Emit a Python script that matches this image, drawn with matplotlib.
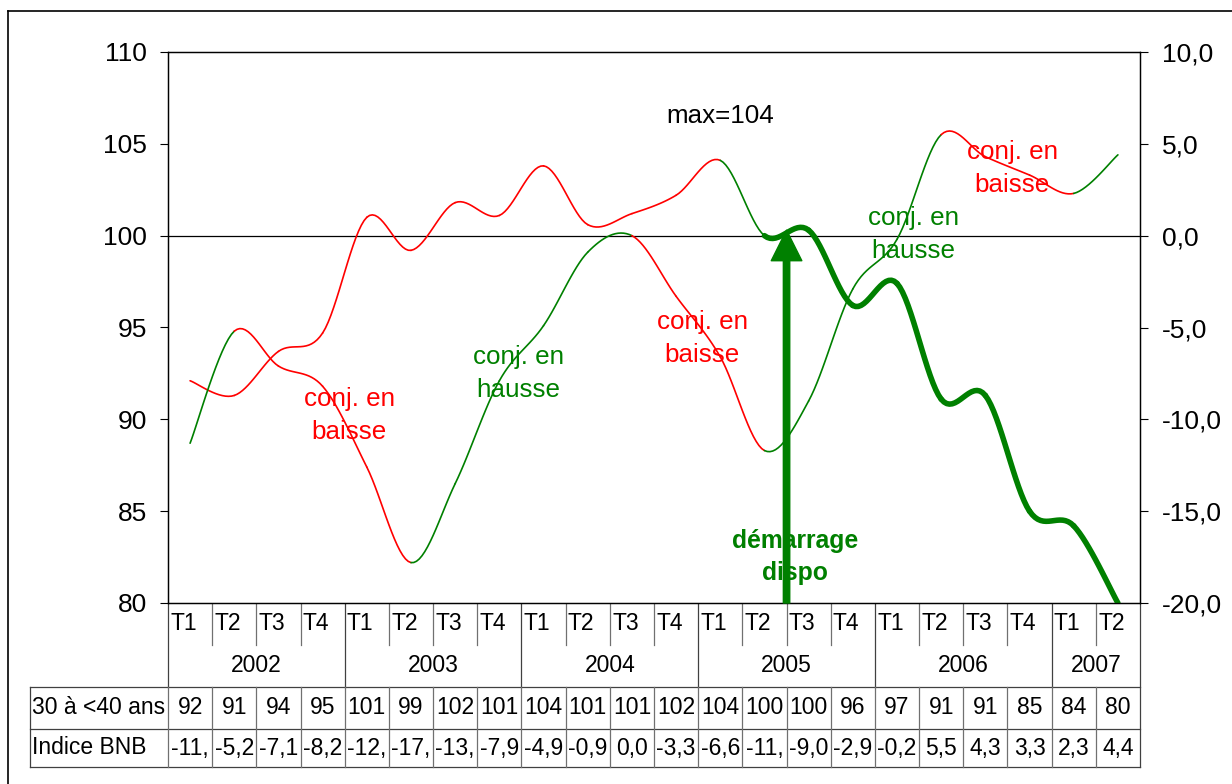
import matplotlib

matplotlib.use("Agg")
import matplotlib.pyplot as plt
import matplotlib.transforms as mtransforms
import numpy as np

# data
YEARS = ["2002", "2003", "2004", "2005", "2006", "2007"]
QUARTERS_PER_YEAR = [4, 4, 4, 4, 4, 2]
QUARTER_LABELS = ["T1", "T2", "T3", "T4"]

AGE_LABEL = "30 à <40 ans"
AGE_30_40 = [92.1, 91.3, 93.7, 94.7, 101.0, 99.2, 101.8, 101.1, 103.8, 100.6, 101.2,
             102.2, 104.1, 100.0, 100.3, 96.2, 97.4, 91.1, 91.3, 85.0, 84.2, 80.0]

BNB_LABEL = "Indice BNB"
BNB_INDEX = [-11.3, -5.2, -7.1, -8.2, -12.6, -17.8, -13.5, -7.9, -4.9, -0.9, 0.0,
             -3.3, -6.6, -11.7, -9.0, -2.9, -0.2, 5.5, 4.3, 3.3, 2.3, 4.4]

LEFT_TICKS = [80, 85, 90, 95, 100, 105, 110]
RIGHT_TICKS = [-20, -15, -10, -5, 0, 5, 10]

RED = "#FF0000"
GREEN = "#008000"
FONT = "Liberation Sans"

# layout in pixels (figure is 1232 x 784)
W, H = 1232, 784
PLOT_L, PLOT_R, PLOT_T, PLOT_B = 168, 1140, 52, 603


def smooth_segments(x, y, n=16):
    # excel-like smoothed line: bezier with catmull-rom control points
    pts = np.column_stack([x, y]).astype(float)
    padded = np.vstack([pts[0], pts, pts[-1]])
    t = np.linspace(0, 1, n + 1)[:, None]
    segments = []
    for i in range(len(pts) - 1):
        p0, p1, p2, p3 = padded[i], padded[i + 1], padded[i + 2], padded[i + 3]
        c1 = p1 + (p2 - p0) / 6
        c2 = p2 - (p3 - p1) / 6
        seg = (1 - t) ** 3 * p1 + 3 * (1 - t) ** 2 * t * c1 + 3 * (1 - t) * t ** 2 * c2 + t ** 3 * p2
        segments.append(seg)
    return segments


def fmt_comma(v, decimals=1):
    return f"{v:.{decimals}f}".replace(".", ",")


def main() -> None:
    plt.rcParams["font.family"] = [FONT, "DejaVu Sans"]

    fig = plt.figure(figsize=(W / 100, H / 100), dpi=100)

    # pixel overlay for border and table
    over = fig.add_axes([0, 0, 1, 1])
    over.set_xlim(0, W)
    over.set_ylim(H, 0)
    over.axis("off")

    ax = fig.add_axes([PLOT_L / W, (H - PLOT_B) / H, (PLOT_R - PLOT_L) / W, (PLOT_B - PLOT_T) / H])
    n = len(AGE_30_40)
    x = np.arange(n) + 0.5
    ax.set_xlim(0, n)
    ax.set_ylim(80, 110)
    ax.set_xticks([])
    ax.set_yticks(LEFT_TICKS)
    ax.set_yticklabels([str(v) for v in LEFT_TICKS])
    ax.tick_params(axis="y", direction="out", length=5.8, width=0.8, labelsize=19, pad=9.4)
    for spine in ax.spines.values():
        spine.set_color("black")
        spine.set_linewidth(0.9)

    ax2 = ax.twinx()
    ax2.set_ylim(-20, 10)
    ax2.set_yticks(RIGHT_TICKS)
    ax2.set_yticklabels([fmt_comma(v) for v in RIGHT_TICKS])
    ax2.tick_params(axis="y", direction="out", length=5.8, width=0.8, labelsize=19, pad=10)
    for spine in ax2.spines.values():
        spine.set_color("black")
        spine.set_linewidth(0.9)

    ax.axhline(100, color="black", lw=0.9, zorder=1)

    # age series: red until T1 2005, thin green to T2 2005, thick green after
    switch_idx = 12
    dispo_idx = 13
    for i, seg in enumerate(smooth_segments(x, AGE_30_40)):
        if i < switch_idx:
            color, lw = RED, 1.2
        elif i < dispo_idx:
            color, lw = GREEN, 1.2
        else:
            color, lw = GREEN, 4.0
        ax.plot(seg[:, 0], seg[:, 1], color=color, lw=lw, solid_capstyle="round", zorder=3)

    # bnb index: green when rising, red when falling
    for i, seg in enumerate(smooth_segments(x, BNB_INDEX)):
        color = GREEN if BNB_INDEX[i + 1] >= BNB_INDEX[i] else RED
        ax2.plot(seg[:, 0], seg[:, 1], color=color, lw=1.2, solid_capstyle="round", zorder=3)

    # start arrow ("démarrage dispo")
    ax2.annotate("", xy=(14.0, 0.3), xytext=(14.0, -20),
                 arrowprops=dict(facecolor=GREEN, edgecolor=GREEN, width=4.6, headwidth=22,
                                 headlength=22, shrink=0), zorder=5)

    text_kw = dict(ha="center", va="center", fontsize=18.7, linespacing=1.45)
    ax.text(12.5, 106.5, "max=104", color="black", **text_kw)
    ax.text(4.1, 90.2, "conj. en\nbaisse", color=RED, **text_kw)
    ax.text(7.93, 92.5, "conj. en\nhausse", color=GREEN, **text_kw)
    ax.text(12.09, 94.4, "conj. en\nbaisse", color=RED, **text_kw)
    ax.text(16.87, 100.05, "conj. en\nhausse", color=GREEN, **text_kw)
    ax.text(19.11, 103.65, "conj. en\nbaisse", color=RED, **text_kw)
    ax.text(14.19, 82.5, "démarrage\ndispo", color=GREEN, ha="center", va="center",
            fontsize=17.8, fontweight="bold", linespacing=1.45, zorder=6)

    # category table below the plot: x in data units, y in pixels
    tr = mtransforms.blended_transform_factory(ax.transData, over.transData)
    grid_c = "#707070"
    dark_c = "#404040"
    table_fs = 16.5
    row_q, row_y, row_a, row_b, row_end = 603, 645, 687, 729, 767

    q = 0
    for year, count in zip(YEARS, QUARTERS_PER_YEAR):
        for k in range(count):
            over.text(q + k + 0.05, (row_q + row_y) / 2, QUARTER_LABELS[k], transform=tr,
                      ha="left", va="center", fontsize=table_fs)
            if k > 0:
                over.plot([q + k, q + k], [row_q, row_y], color=grid_c, lw=0.9, transform=tr)
        over.plot([q, q], [row_q, row_a], color=dark_c, lw=0.9, transform=tr)
        over.text(q + count / 2, (row_y + row_a) / 2, year, transform=tr,
                  ha="center", va="center", fontsize=table_fs)
        q += count
    over.plot([q, q], [row_q, row_end], color=dark_c, lw=0.9, transform=tr)

    # data table rows
    label_left = 30
    for yy in (row_a, row_b, row_end):
        over.plot([label_left, PLOT_R], [yy, yy], color=dark_c, lw=0.9)
    over.plot([label_left, label_left], [row_a, row_end], color=dark_c, lw=0.9)
    for j in range(n):
        over.plot([j, j], [row_a, row_end], color=grid_c, lw=0.9, transform=tr)
    over.text(label_left + 2, (row_a + row_b) / 2, AGE_LABEL, ha="left", va="center", fontsize=table_fs)
    over.text(label_left + 2, (row_b + row_end) / 2, BNB_LABEL, ha="left", va="center", fontsize=table_fs)
    for j in range(n):
        over.text(x[j], (row_a + row_b) / 2, f"{AGE_30_40[j]:.0f}", transform=tr,
                  ha="center", va="center", fontsize=table_fs)
        # cells are too narrow, excel cuts the text
        over.text(x[j], (row_b + row_end) / 2, fmt_comma(BNB_INDEX[j])[:4], transform=tr,
                  ha="center", va="center", fontsize=table_fs)

    # chart border (only top and left are inside the picture)
    over.plot([8, 8], [11, H], color="black", lw=1.2)
    over.plot([8, W], [11, 11], color="black", lw=1.2)

    fig.savefig("out.png", dpi=100)
    plt.close(fig)


if __name__ == "__main__":
    main()
